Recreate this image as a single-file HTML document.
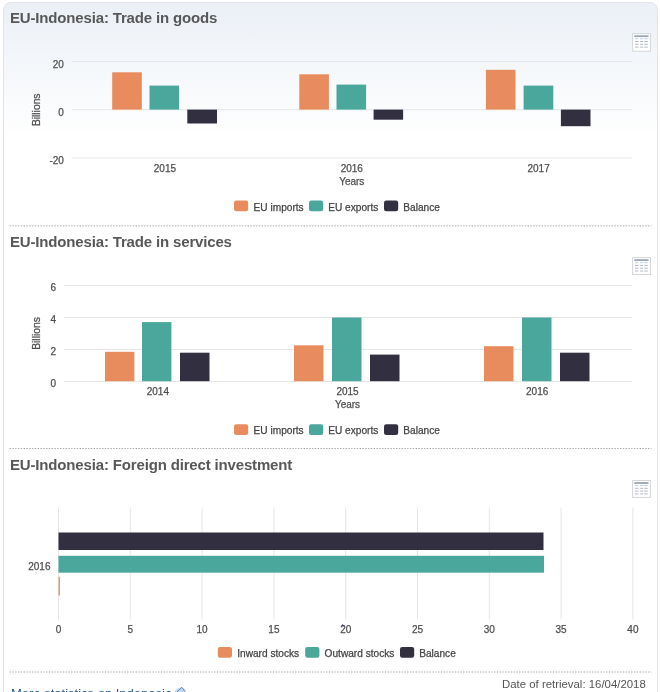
<!DOCTYPE html>
<html><head><meta charset="utf-8"><title>EU-Indonesia trade</title>
<style>
html,body{margin:0;padding:0;background:#fff;}
body{width:660px;height:692px;overflow:hidden;position:relative;font-family:"Liberation Sans",sans-serif;}
.box{position:absolute;left:3px;top:2px;width:655px;height:720px;border:1px solid #e2e4e8;border-radius:8px;
 background:linear-gradient(to bottom,#ebf0f6 0px,#f3f6fa 55px,#ffffff 135px);box-sizing:border-box;}
h2{will-change:transform;position:absolute;left:10px;margin:0;font-size:15px;letter-spacing:-0.16px;line-height:16px;font-weight:bold;color:#585858;white-space:nowrap;}
svg{position:absolute;left:0;top:0;font-family:"Liberation Sans",sans-serif;}
.foot{will-change:transform;position:absolute;font-size:12px;color:#555;white-space:nowrap;}
a{color:#245a94;text-decoration:none;}
</style></head><body>
<div class="box"></div>
<h2 style="top:9.7px">EU-Indonesia: Trade in goods</h2>

<h2 style="top:233.5px">EU-Indonesia: Trade in services</h2>

<h2 style="top:456.9px">EU-Indonesia: Foreign direct investment</h2>

<div class="foot" style="right:14px;top:677px;font-size:11.4px;line-height:14px">Date of retrieval: 16/04/2018</div>
<div class="foot" style="left:10.5px;top:686px;font-size:13px;line-height:15px"><a>More statistics on Indonesia</a></div>

<svg width="660" height="692" viewBox="0 0 660 692">
<path d="M9.6 225.9H651.5" stroke="#a8a8a8" stroke-width="1" stroke-dasharray="1.4 1.4"/>
<path d="M9.6 448.5H651.5" stroke="#a8a8a8" stroke-width="1" stroke-dasharray="1.4 1.4"/>
<path d="M9.6 672.0H651.5" stroke="#a8a8a8" stroke-width="1" stroke-dasharray="1.4 1.4"/>
<path d="M71.5 61.5H632" stroke="#e6e6e6" stroke-width="1"/>
<text x="63.90" y="67.80" text-anchor="end" font-size="10" fill="#4e4e4e" stroke="#4e4e4e" stroke-width="0.25" >20</text>
<path d="M71.5 109.7H632" stroke="#e6e6e6" stroke-width="1"/>
<text x="63.90" y="116.00" text-anchor="end" font-size="10" fill="#4e4e4e" stroke="#4e4e4e" stroke-width="0.25" >0</text>
<path d="M71.5 158.0H632" stroke="#e6e6e6" stroke-width="1"/>
<text x="63.90" y="164.30" text-anchor="end" font-size="10" fill="#4e4e4e" stroke="#4e4e4e" stroke-width="0.25" >-20</text>
<text x="0.00" y="0.00" text-anchor="middle" font-size="10.3" fill="#4e4e4e" stroke="#4e4e4e" stroke-width="0.25" transform="translate(40.0,109.8) rotate(-90)">Billions</text>
<rect x="112.20" y="72.30" width="29.60" height="37.30" fill="#e88c5d" />
<rect x="149.50" y="85.60" width="29.60" height="24.00" fill="#4aa79c" />
<rect x="187.30" y="109.60" width="29.70" height="13.90" fill="#323040" />
<rect x="299.30" y="74.30" width="29.60" height="35.30" fill="#e88c5d" />
<rect x="336.50" y="84.60" width="29.60" height="25.00" fill="#4aa79c" />
<rect x="373.60" y="109.60" width="29.50" height="10.10" fill="#323040" />
<rect x="485.90" y="69.80" width="29.60" height="39.80" fill="#e88c5d" />
<rect x="523.60" y="85.60" width="29.70" height="24.00" fill="#4aa79c" />
<rect x="560.90" y="109.60" width="29.60" height="16.60" fill="#323040" />
<text x="164.92" y="172.00" text-anchor="middle" font-size="10" fill="#4e4e4e" stroke="#4e4e4e" stroke-width="0.25" >2015</text>
<text x="351.75" y="172.00" text-anchor="middle" font-size="10" fill="#4e4e4e" stroke="#4e4e4e" stroke-width="0.25" >2016</text>
<text x="538.58" y="172.00" text-anchor="middle" font-size="10" fill="#4e4e4e" stroke="#4e4e4e" stroke-width="0.25" >2017</text>
<text x="351.75" y="184.50" text-anchor="middle" font-size="10" fill="#4e4e4e" stroke="#4e4e4e" stroke-width="0.25" >Years</text>
<rect x="234.0" y="200.50" width="14.2" height="10.8" rx="2.2" ry="2.2" fill="#e88c5d"/><text x="253.60" y="210.60" text-anchor="start" font-size="10.15" fill="#444444" stroke="#444444" stroke-width="0.25" >EU imports</text><rect x="309.0" y="200.50" width="14.2" height="10.8" rx="2.2" ry="2.2" fill="#4aa79c"/><text x="328.20" y="210.60" text-anchor="start" font-size="10.15" fill="#444444" stroke="#444444" stroke-width="0.25" >EU exports</text><rect x="384.0" y="200.50" width="14.2" height="10.8" rx="2.2" ry="2.2" fill="#323040"/><text x="403.30" y="210.60" text-anchor="start" font-size="10.15" fill="#444444" stroke="#444444" stroke-width="0.25" >Balance</text>
<g transform="translate(632,33.1)"><rect x="0.6" y="0.6" width="17.8" height="17.5" fill="#ffffff" stroke="#d3d6da" stroke-width="1"/><rect x="2.3" y="2.2" width="14.2" height="1.8" fill="#9ba7b3"/><rect x="3.1" y="5.1" width="3.3" height="1.1" fill="#c3d3e4"/><rect x="8.1" y="5.1" width="3.0" height="1.1" fill="#c3d3e4"/><rect x="12.2" y="5.1" width="3.6" height="1.1" fill="#c3d3e4"/><rect x="3.1" y="7.9" width="3.3" height="1.0" fill="#b3bac2"/><rect x="8.1" y="7.9" width="3.0" height="1.0" fill="#b3bac2"/><rect x="12.2" y="7.9" width="3.6" height="1.0" fill="#b3bac2"/><rect x="3.1" y="10.7" width="3.3" height="1.0" fill="#b3bac2"/><rect x="8.1" y="10.7" width="3.0" height="1.0" fill="#b3bac2"/><rect x="12.2" y="10.7" width="3.6" height="1.0" fill="#b3bac2"/><rect x="3.1" y="13.5" width="3.3" height="1.0" fill="#b3bac2"/><rect x="8.1" y="13.5" width="3.0" height="1.0" fill="#b3bac2"/><rect x="12.2" y="13.5" width="3.6" height="1.0" fill="#b3bac2"/></g>
<path d="M64 285.5H632" stroke="#e6e6e6" stroke-width="1"/>
<text x="56.00" y="291.40" text-anchor="end" font-size="10" fill="#4e4e4e" stroke="#4e4e4e" stroke-width="0.25" >6</text>
<path d="M64 317.5H632" stroke="#e6e6e6" stroke-width="1"/>
<text x="56.00" y="323.40" text-anchor="end" font-size="10" fill="#4e4e4e" stroke="#4e4e4e" stroke-width="0.25" >4</text>
<path d="M64 349.5H632" stroke="#e6e6e6" stroke-width="1"/>
<text x="56.00" y="355.40" text-anchor="end" font-size="10" fill="#4e4e4e" stroke="#4e4e4e" stroke-width="0.25" >2</text>
<path d="M64 381.5H632" stroke="#e6e6e6" stroke-width="1"/>
<text x="56.00" y="387.40" text-anchor="end" font-size="10" fill="#4e4e4e" stroke="#4e4e4e" stroke-width="0.25" >0</text>
<text x="0.00" y="0.00" text-anchor="middle" font-size="10.3" fill="#4e4e4e" stroke="#4e4e4e" stroke-width="0.25" transform="translate(39.6,333.5) rotate(-90)">Billions</text>
<rect x="105.00" y="351.80" width="29.40" height="29.40" fill="#e88c5d" />
<rect x="142.00" y="322.10" width="29.40" height="59.10" fill="#4aa79c" />
<rect x="180.00" y="352.70" width="29.50" height="28.50" fill="#323040" />
<rect x="294.00" y="345.30" width="29.50" height="35.90" fill="#e88c5d" />
<rect x="332.00" y="317.50" width="29.50" height="63.70" fill="#4aa79c" />
<rect x="370.00" y="354.60" width="29.50" height="26.60" fill="#323040" />
<rect x="484.00" y="346.20" width="29.50" height="35.00" fill="#e88c5d" />
<rect x="522.00" y="317.50" width="29.50" height="63.70" fill="#4aa79c" />
<rect x="560.00" y="352.70" width="29.50" height="28.50" fill="#323040" />
<text x="157.83" y="395.10" text-anchor="middle" font-size="10" fill="#4e4e4e" stroke="#4e4e4e" stroke-width="0.25" >2014</text>
<text x="347.50" y="395.10" text-anchor="middle" font-size="10" fill="#4e4e4e" stroke="#4e4e4e" stroke-width="0.25" >2015</text>
<text x="537.17" y="395.10" text-anchor="middle" font-size="10" fill="#4e4e4e" stroke="#4e4e4e" stroke-width="0.25" >2016</text>
<text x="347.50" y="408.00" text-anchor="middle" font-size="10" fill="#4e4e4e" stroke="#4e4e4e" stroke-width="0.25" >Years</text>
<rect x="234.0" y="424.20" width="14.2" height="10.8" rx="2.2" ry="2.2" fill="#e88c5d"/><text x="253.60" y="434.30" text-anchor="start" font-size="10.15" fill="#444444" stroke="#444444" stroke-width="0.25" >EU imports</text><rect x="309.0" y="424.20" width="14.2" height="10.8" rx="2.2" ry="2.2" fill="#4aa79c"/><text x="328.20" y="434.30" text-anchor="start" font-size="10.15" fill="#444444" stroke="#444444" stroke-width="0.25" >EU exports</text><rect x="384.0" y="424.20" width="14.2" height="10.8" rx="2.2" ry="2.2" fill="#323040"/><text x="403.30" y="434.30" text-anchor="start" font-size="10.15" fill="#444444" stroke="#444444" stroke-width="0.25" >Balance</text>
<g transform="translate(632,257)"><rect x="0.6" y="0.6" width="17.8" height="16.9" fill="#ffffff" stroke="#d3d6da" stroke-width="1"/><rect x="2.3" y="2.2" width="14.2" height="1.8" fill="#9ba7b3"/><rect x="3.1" y="5.1" width="3.3" height="1.1" fill="#c3d3e4"/><rect x="8.1" y="5.1" width="3.0" height="1.1" fill="#c3d3e4"/><rect x="12.2" y="5.1" width="3.6" height="1.1" fill="#c3d3e4"/><rect x="3.1" y="7.9" width="3.3" height="1.0" fill="#b3bac2"/><rect x="8.1" y="7.9" width="3.0" height="1.0" fill="#b3bac2"/><rect x="12.2" y="7.9" width="3.6" height="1.0" fill="#b3bac2"/><rect x="3.1" y="10.7" width="3.3" height="1.0" fill="#b3bac2"/><rect x="8.1" y="10.7" width="3.0" height="1.0" fill="#b3bac2"/><rect x="12.2" y="10.7" width="3.6" height="1.0" fill="#b3bac2"/><rect x="3.1" y="13.5" width="3.3" height="1.0" fill="#b3bac2"/><rect x="8.1" y="13.5" width="3.0" height="1.0" fill="#b3bac2"/><rect x="12.2" y="13.5" width="3.6" height="1.0" fill="#b3bac2"/></g>
<path d="M58.50 507.5V619.5" stroke="#e6e6e6" stroke-width="1"/>
<text x="58.50" y="632.50" text-anchor="middle" font-size="10" fill="#4e4e4e" stroke="#4e4e4e" stroke-width="0.25" >0</text>
<path d="M130.30 507.5V619.5" stroke="#e6e6e6" stroke-width="1"/>
<text x="130.30" y="632.50" text-anchor="middle" font-size="10" fill="#4e4e4e" stroke="#4e4e4e" stroke-width="0.25" >5</text>
<path d="M202.10 507.5V619.5" stroke="#e6e6e6" stroke-width="1"/>
<text x="202.10" y="632.50" text-anchor="middle" font-size="10" fill="#4e4e4e" stroke="#4e4e4e" stroke-width="0.25" >10</text>
<path d="M273.90 507.5V619.5" stroke="#e6e6e6" stroke-width="1"/>
<text x="273.90" y="632.50" text-anchor="middle" font-size="10" fill="#4e4e4e" stroke="#4e4e4e" stroke-width="0.25" >15</text>
<path d="M345.70 507.5V619.5" stroke="#e6e6e6" stroke-width="1"/>
<text x="345.70" y="632.50" text-anchor="middle" font-size="10" fill="#4e4e4e" stroke="#4e4e4e" stroke-width="0.25" >20</text>
<path d="M417.50 507.5V619.5" stroke="#e6e6e6" stroke-width="1"/>
<text x="417.50" y="632.50" text-anchor="middle" font-size="10" fill="#4e4e4e" stroke="#4e4e4e" stroke-width="0.25" >25</text>
<path d="M489.30 507.5V619.5" stroke="#e6e6e6" stroke-width="1"/>
<text x="489.30" y="632.50" text-anchor="middle" font-size="10" fill="#4e4e4e" stroke="#4e4e4e" stroke-width="0.25" >30</text>
<path d="M561.10 507.5V619.5" stroke="#e6e6e6" stroke-width="1"/>
<text x="561.10" y="632.50" text-anchor="middle" font-size="10" fill="#4e4e4e" stroke="#4e4e4e" stroke-width="0.25" >35</text>
<path d="M632.90 507.5V619.5" stroke="#e6e6e6" stroke-width="1"/>
<text x="632.90" y="632.50" text-anchor="middle" font-size="10" fill="#4e4e4e" stroke="#4e4e4e" stroke-width="0.25" >40</text>
<rect x="58.50" y="532.50" width="485.00" height="17.50" fill="#323040" />
<rect x="58.50" y="555.80" width="485.50" height="16.90" fill="#4aa79c" />
<rect x="58.60" y="576.80" width="1.30" height="18.70" fill="#d98f6c" />
<text x="50.50" y="570.00" text-anchor="end" font-size="10" fill="#4e4e4e" stroke="#4e4e4e" stroke-width="0.25" >2016</text>
<rect x="217.8" y="646.90" width="14.2" height="10.8" rx="2.2" ry="2.2" fill="#e88c5d"/><text x="237.20" y="657.00" text-anchor="start" font-size="10.15" fill="#444444" stroke="#444444" stroke-width="0.25" >Inward stocks</text><rect x="305.2" y="646.90" width="14.2" height="10.8" rx="2.2" ry="2.2" fill="#4aa79c"/><text x="324.60" y="657.00" text-anchor="start" font-size="10.15" fill="#444444" stroke="#444444" stroke-width="0.25" >Outward stocks</text><rect x="400" y="646.90" width="14.2" height="10.8" rx="2.2" ry="2.2" fill="#323040"/><text x="419.20" y="657.00" text-anchor="start" font-size="10.15" fill="#444444" stroke="#444444" stroke-width="0.25" >Balance</text>
<g transform="translate(632,479.9)"><rect x="0.6" y="0.6" width="17.8" height="16.9" fill="#ffffff" stroke="#d3d6da" stroke-width="1"/><rect x="2.3" y="2.2" width="14.2" height="1.8" fill="#9ba7b3"/><rect x="3.1" y="5.1" width="3.3" height="1.1" fill="#c3d3e4"/><rect x="8.1" y="5.1" width="3.0" height="1.1" fill="#c3d3e4"/><rect x="12.2" y="5.1" width="3.6" height="1.1" fill="#c3d3e4"/><rect x="3.1" y="7.9" width="3.3" height="1.0" fill="#b3bac2"/><rect x="8.1" y="7.9" width="3.0" height="1.0" fill="#b3bac2"/><rect x="12.2" y="7.9" width="3.6" height="1.0" fill="#b3bac2"/><rect x="3.1" y="10.7" width="3.3" height="1.0" fill="#b3bac2"/><rect x="8.1" y="10.7" width="3.0" height="1.0" fill="#b3bac2"/><rect x="12.2" y="10.7" width="3.6" height="1.0" fill="#b3bac2"/><rect x="3.1" y="13.5" width="3.3" height="1.0" fill="#b3bac2"/><rect x="8.1" y="13.5" width="3.0" height="1.0" fill="#b3bac2"/><rect x="12.2" y="13.5" width="3.6" height="1.0" fill="#b3bac2"/></g>
<path d="M341.3 626.2 L342.7 623.9 L344.1 626.2 Z" fill="#2a2a70"/>
<path d="M174.3 694 Q174.5 688.2 180.5 687.4 Q186.2 688 186.4 694 Z" fill="#c4d9f0"/>
<path d="M176.5 692.5 L181.8 687.3 L185 691.5" fill="none" stroke="#5c86b4" stroke-width="1"/>
</svg>
</body></html>
